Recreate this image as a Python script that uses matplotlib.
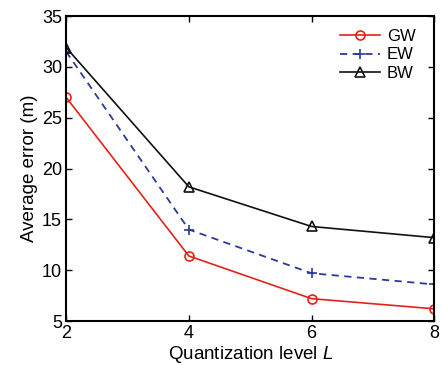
import matplotlib
matplotlib.use("Agg")
from matplotlib import pyplot as plt

# quantization levels and errors
levels = [2, 4, 6, 8]
gw = [27.0, 11.4, 7.2, 6.2]
ew = [31.5, 14.0, 9.7, 8.6]
bw = [31.9, 18.2, 14.3, 13.2]

plt.rcParams['font.family'] = ['Liberation Sans', 'DejaVu Sans']
plt.rcParams['mathtext.fontset'] = 'custom'
plt.rcParams['mathtext.it'] = 'Liberation Sans:italic'

fig = plt.figure(figsize=(4.44, 3.65), dpi=100)
ax = fig.add_axes([0.149, 0.1205, 0.829, 0.8355])

ax.plot(levels, gw, '-', color='#e3231b', lw=1.2, marker='o', ms=6.5,
        mfc='none', mec='#e3231b', mew=1.2, label='GW')
ax.plot(levels, ew, '--', color='#2b3a9a', lw=1.3, marker='+', ms=7,
        mew=1.2, label='EW', dashes=(4, 3))
ax.plot(levels, bw, '-', color='#111111', lw=1.2, marker='^', ms=6.5,
        mfc='none', mec='#111111', mew=1.2, label='BW')

ax.set_xlim(2, 8)
ax.set_ylim(5, 35)
ax.set_xticks(levels)
ax.set_yticks([5, 10, 15, 20, 25, 30, 35])
ax.tick_params(direction='in', top=True, right=True, labelsize=13, length=4, width=1,
               pad=3)
for s in ax.spines.values():
    s.set_linewidth(1.5)

ax.set_xlabel('Quantization level $L$', fontsize=13.5, labelpad=1)
ax.set_ylabel('Average error (m)', fontsize=13.5, labelpad=3)
ax.legend(loc='upper left', frameon=False, fontsize=12, handlelength=2.4,
          handletextpad=0.4, labelspacing=0.19, borderpad=0, borderaxespad=0,
          bbox_to_anchor=(0.745, 0.957))

fig.savefig('out.png', dpi=100)
